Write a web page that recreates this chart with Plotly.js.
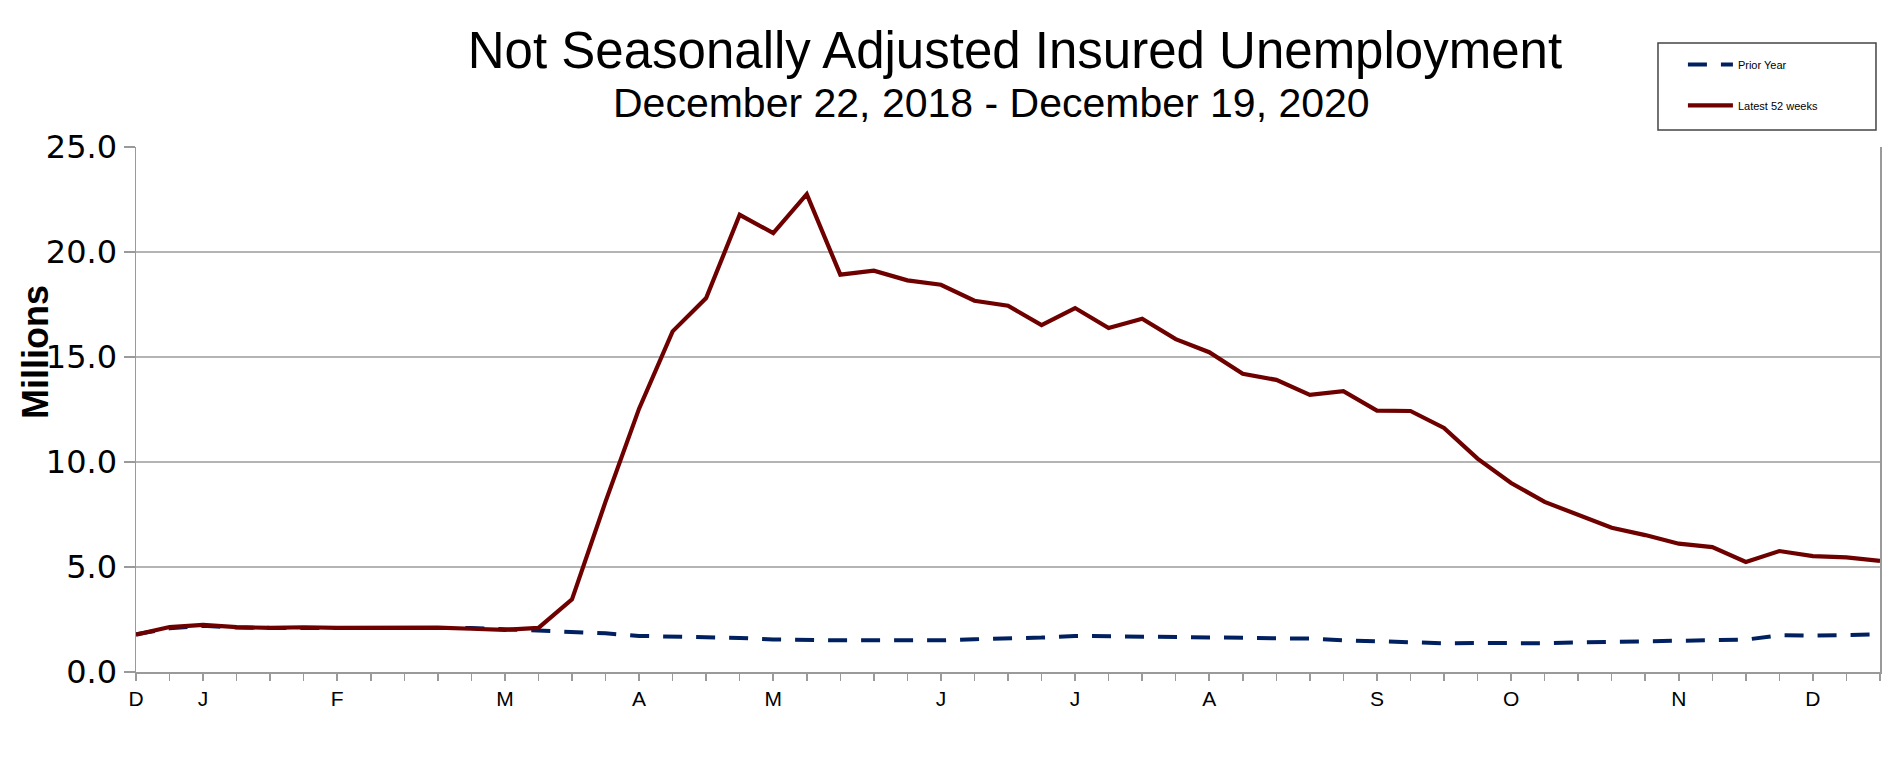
<!DOCTYPE html>
<html>
<head>
<meta charset="utf-8">
<script src="https://cdn.plot.ly/plotly-3.0.1.min.js"></script>
<style>
  html, body { margin: 0; padding: 0; background: #ffffff; }
  #chart { width: 1896px; height: 774px; }
</style>
</head>
<body>
<div id="chart"></div>
<script>
// Week-ending dates of the latest 52 weeks (categories)
const weeks = [
  '2019-12-21','2019-12-28','2020-01-04','2020-01-11','2020-01-18','2020-01-25',
  '2020-02-01','2020-02-08','2020-02-15','2020-02-22','2020-02-29',
  '2020-03-07','2020-03-14','2020-03-21','2020-03-28',
  '2020-04-04','2020-04-11','2020-04-18','2020-04-25',
  '2020-05-02','2020-05-09','2020-05-16','2020-05-23','2020-05-30',
  '2020-06-06','2020-06-13','2020-06-20','2020-06-27',
  '2020-07-04','2020-07-11','2020-07-18','2020-07-25',
  '2020-08-01','2020-08-08','2020-08-15','2020-08-22','2020-08-29',
  '2020-09-05','2020-09-12','2020-09-19','2020-09-26',
  '2020-10-03','2020-10-10','2020-10-17','2020-10-24','2020-10-31',
  '2020-11-07','2020-11-14','2020-11-21','2020-11-28',
  '2020-12-05','2020-12-12','2020-12-19'
];

// Month tick labels (one per week, blank where no label)
const tickLabels = [
  'D','','J','','','','F','','','','','M','','','','A','','','','M','','','','',
  'J','','','','J','','','','A','','','','','S','','','','O','','','','','N','','','',
  'D','',''
];

// Prior year insured unemployment (millions)
const priorYear = [
  1.80, 2.08, 2.20, 2.12, 2.10, 2.12, 2.10, 2.10, 2.12, 2.10, 2.10,
  2.04, 2.00, 1.92, 1.84, 1.72, 1.70, 1.64, 1.62, 1.55, 1.52, 1.51,
  1.51, 1.51, 1.51, 1.56, 1.59, 1.64, 1.72, 1.70, 1.69, 1.69, 1.67,
  1.64, 1.62, 1.59, 1.51, 1.46, 1.40, 1.37, 1.38, 1.37, 1.37, 1.41,
  1.43, 1.48, 1.49, 1.52, 1.54, 1.75, 1.73, 1.76, 1.79
];

// Latest 52 weeks insured unemployment (millions)
const latest52 = [
  1.78, 2.14, 2.24, 2.14, 2.10, 2.13, 2.10, 2.10, 2.10, 2.11, 2.06,
  2.01, 2.10, 3.46, 8.11, 12.54, 16.22, 17.81, 21.77, 20.90, 22.75, 18.92,
  19.11, 18.65, 18.44, 17.68, 17.44, 16.52, 17.33, 16.38, 16.82, 15.85, 15.23,
  14.20, 13.91, 13.20, 13.37, 12.45, 12.43, 11.62, 10.16, 9.00, 8.10, 7.49,
  6.87, 6.52, 6.11, 5.95, 5.24, 5.76, 5.52, 5.46, 5.29
];

const seriesNames = ['Prior Year', 'Latest 52 weeks'];
const titleText = 'Not Seasonally Adjusted Insured Unemployment';
const subtitleText = 'December 22, 2018 - December 19, 2020';
const yTitleText = 'Millions';

const FONT = 'Liberation Sans, Arial, Helvetica, sans-serif';
const WIDE_FONT = 'DejaVu Sans, Verdana, sans-serif';

const traces = [
  {
    x: weeks, y: priorYear, name: seriesNames[0], type: 'scatter', mode: 'lines',
    legendgroup: 'a',
    line: { color: '#002060', width: 4, dash: '19px,14px' },
    hoverinfo: 'x+y'
  },
  {
    x: weeks, y: latest52, name: seriesNames[1], type: 'scatter', mode: 'lines',
    legendgroup: 'b',
    line: { color: '#6e0000', width: 4.2 },
    hoverinfo: 'x+y'
  }
];

const layout = {
  width: 1896, height: 774, autosize: false,
  paper_bgcolor: '#ffffff', plot_bgcolor: '#ffffff',
  margin: { l: 136, r: 16, t: 147, b: 102, pad: 0 },
  font: { family: FONT, color: '#000000' },
  title: {
    text: titleText,
    font: { family: FONT, size: 51, color: '#000000' },
    x: 0.5353, xanchor: 'center', xref: 'container',
    y: 0.935, yanchor: 'middle', yref: 'container'
  },
  showlegend: true,
  legend: {
    x: 0.887, y: 1.185, xanchor: 'left', yanchor: 'top',
    font: { family: FONT, size: 11, color: '#000000' },
    bgcolor: 'rgba(0,0,0,0)', borderwidth: 0,
    itemwidth: 45, tracegroupgap: 22, traceorder: 'grouped'
  },
  xaxis: {
    type: 'category',
    range: [0, weeks.length - 1],
    tickmode: 'array', tickvals: weeks, ticktext: tickLabels,
    ticks: 'outside', ticklen: 7, tickwidth: 1.5, tickcolor: '#9a9a9a',
    showgrid: false, zeroline: false,
    showline: true, linecolor: '#9a9a9a', linewidth: 1.5,
    tickfont: { family: FONT, size: 21, color: '#000000' },
    tickangle: 0, fixedrange: true
  },
  yaxis: {
    range: [0, 25], dtick: 5, tick0: 0, tickformat: '.1f',
    ticks: 'outside', ticklen: 11, tickwidth: 1.5, tickcolor: '#9a9a9a',
    showgrid: true, gridcolor: '#b4b4b4', gridwidth: 1.5,
    zeroline: false,
    showline: true, mirror: true, linecolor: '#9a9a9a', linewidth: 1.5,
    tickfont: { family: WIDE_FONT, size: 32, color: '#000000' },
    fixedrange: true
  },
  annotations: [
    {
      text: subtitleText, xref: 'paper', yref: 'paper',
      x: 0.4905, y: 1.0838, xanchor: 'center', yanchor: 'middle',
      showarrow: false, font: { family: FONT, size: 41, color: '#000000' }
    },
    {
      text: '<b>' + yTitleText + '</b>', xref: 'paper', yref: 'paper',
      x: -0.0579, y: 0.6095, xanchor: 'center', yanchor: 'middle',
      textangle: -90, showarrow: false,
      font: { family: FONT, size: 36, color: '#000000' }
    }
  ],
  shapes: [
    {
      type: 'rect', xref: 'paper', yref: 'paper',
      x0: 0.8727, x1: 0.9977, y0: 1.0324, y1: 1.198,
      line: { color: '#444444', width: 1.5 }, fillcolor: 'rgba(0,0,0,0)',
      layer: 'above'
    }
  ]
};

Plotly.newPlot('chart', traces, layout, { displayModeBar: false, staticPlot: true });
</script>
</body>
</html>
